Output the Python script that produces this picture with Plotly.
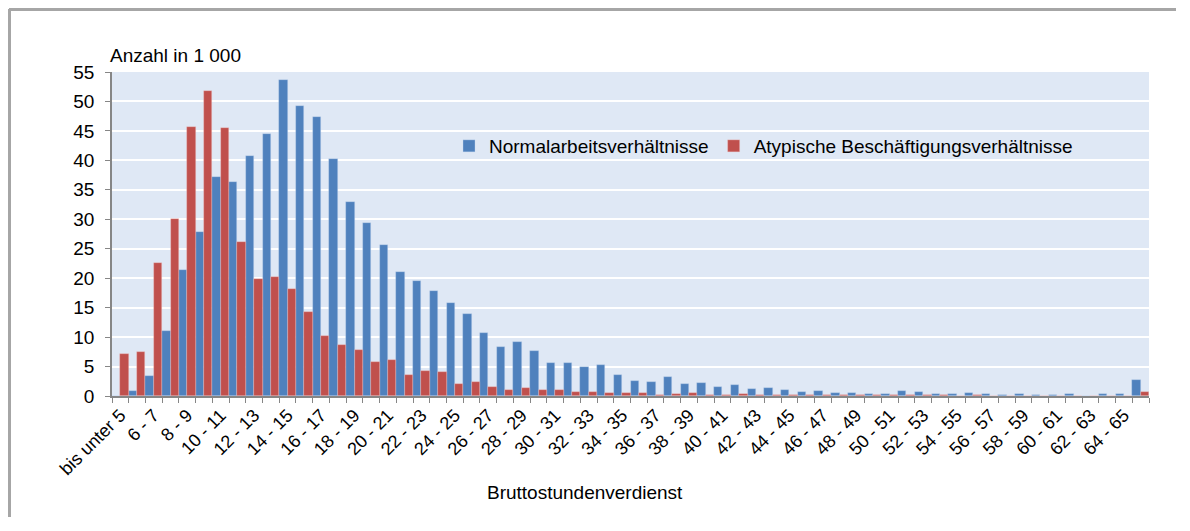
import plotly.graph_objects as go

categories = ["bis unter 5"] + [f"{k} - {k+1}" for k in range(5, 65)] + ["65 und mehr"]

normal = [0.0, 0.8, 3.4, 11.1, 21.4, 27.9, 37.1, 36.3, 40.7, 44.5,
          53.6, 49.2, 47.4, 40.2, 33.0, 29.4, 25.7, 21.0, 19.5, 17.9,
          15.8, 14.0, 10.7, 8.4, 9.2, 7.7, 5.6, 5.6, 4.9, 5.2,
          3.6, 2.6, 2.3, 3.3, 2.1, 2.2, 1.5, 1.8, 1.2, 1.4,
          1.1, 0.6, 0.8, 0.5, 0.45, 0.4, 0.4, 0.9, 0.6, 0.4,
          0.3, 0.55, 0.3, 0.25, 0.3, 0.2, 0.25, 0.3, 0.05, 0.4,
          0.3, 2.7]

atypisch = [7.1, 7.5, 22.5, 30.0, 45.6, 51.7, 45.5, 26.1, 19.9, 20.2,
            18.2, 14.3, 10.2, 8.7, 7.8, 5.7, 6.1, 3.6, 4.2, 4.1,
            2.0, 2.3, 1.5, 1.0, 1.4, 1.0, 1.0, 0.6, 0.75, 0.45,
            0.45, 0.5, 0.25, 0.4, 0.5, 0.25, 0.2, 0.35, 0.1, 0.2,
            0.15, 0.1, 0.1, 0.2, 0.2, 0.1, 0.1, 0.1, 0.1, 0.1,
            0.05, 0.1, 0.05, 0.05, 0.05, 0.05, 0.05, 0.05, 0.0, 0.05,
            0.05, 0.6]

tick_text = [c if i % 2 == 0 and i < 61 else "" for i, c in enumerate(categories)]
y_ticks = list(range(0, 56, 5))

FONT = "Liberation Sans, Arial, sans-serif"
BLUE = "#4F81BD"
RED = "#C0504D"

fig = go.Figure()
fig.add_trace(go.Bar(x=categories, y=normal, name="Normalarbeitsverhältnisse",
                     marker=dict(color=BLUE, line=dict(color="rgba(200,215,240,0.6)", width=0.6))))
fig.add_trace(go.Bar(x=categories, y=atypisch, name="Atypische Beschäftigungsverhältnisse",
                     marker=dict(color=RED, line=dict(color="rgba(240,200,200,0.6)", width=0.6))))

# page body has an 8px margin; figure sized to fit the window without scrollbars
OFF = 8
W, H = 1168, 509
L, T = 112 - OFF, 72 - OFF
R = (W + OFF) - 1149
B = (H + OFF) - 396
pw, ph = W - L - R, H - T - B

def px(x):
    return (x - OFF - L) / pw

def py(y):
    return (H + OFF - B - y) / ph

fig.update_layout(
    width=W, height=H,
    margin=dict(l=L, r=R, t=T, b=B, pad=0),
    paper_bgcolor="white",
    plot_bgcolor="#DFE8F5",
    barmode="group", bargap=0, bargroupgap=0,
    font=dict(family=FONT, size=19, color="black"),
    showlegend=True,
    legend=dict(orientation="h", x=px(449), y=py(146), xanchor="left", yanchor="middle",
                bgcolor="rgba(0,0,0,0)", font=dict(size=19, family=FONT), itemwidth=30,
                traceorder="normal"),
    xaxis=dict(
        type="category", tickmode="array", tickvals=categories, ticktext=tick_text,
        tickangle=-45, tickson="boundaries", ticks="outside", ticklen=5, tickcolor="#868686",
        showline=True, linecolor="#868686", linewidth=1.5, showgrid=False,
        tickfont=dict(size=18, family=FONT), range=[-0.5, len(categories) - 0.5],
    ),
    yaxis=dict(
        range=[0, 55], tickvals=y_ticks, ticks="outside", ticklen=5, tickcolor="#868686",
        showline=True, linecolor="#868686", linewidth=1.5,
        showgrid=True, gridcolor="white", gridwidth=2, zeroline=False,
        tickfont=dict(size=19, family=FONT), ticklabelstandoff=7,
    ),
    annotations=[
        dict(text="Anzahl in 1 000", xref="paper", yref="paper", x=px(108), y=py(55),
             xanchor="left", yanchor="middle", showarrow=False, font=dict(size=19, family=FONT)),
        dict(text="Bruttostundenverdienst", xref="paper", yref="paper", x=px(585), y=py(492),
             xanchor="center", yanchor="middle", showarrow=False, font=dict(size=19, family=FONT)),
    ],
    shapes=[
        dict(type="line", xref="paper", yref="paper", x0=px(9), x1=px(OFF + W), y0=py(9.5), y1=py(9.5),
             line=dict(color="#A6A6A6", width=3)),
        dict(type="line", xref="paper", yref="paper", x0=px(9.5), x1=px(9.5), y0=py(9), y1=py(OFF + H),
             line=dict(color="#A6A6A6", width=3)),
    ],
)

fig.write_html("out.html")
